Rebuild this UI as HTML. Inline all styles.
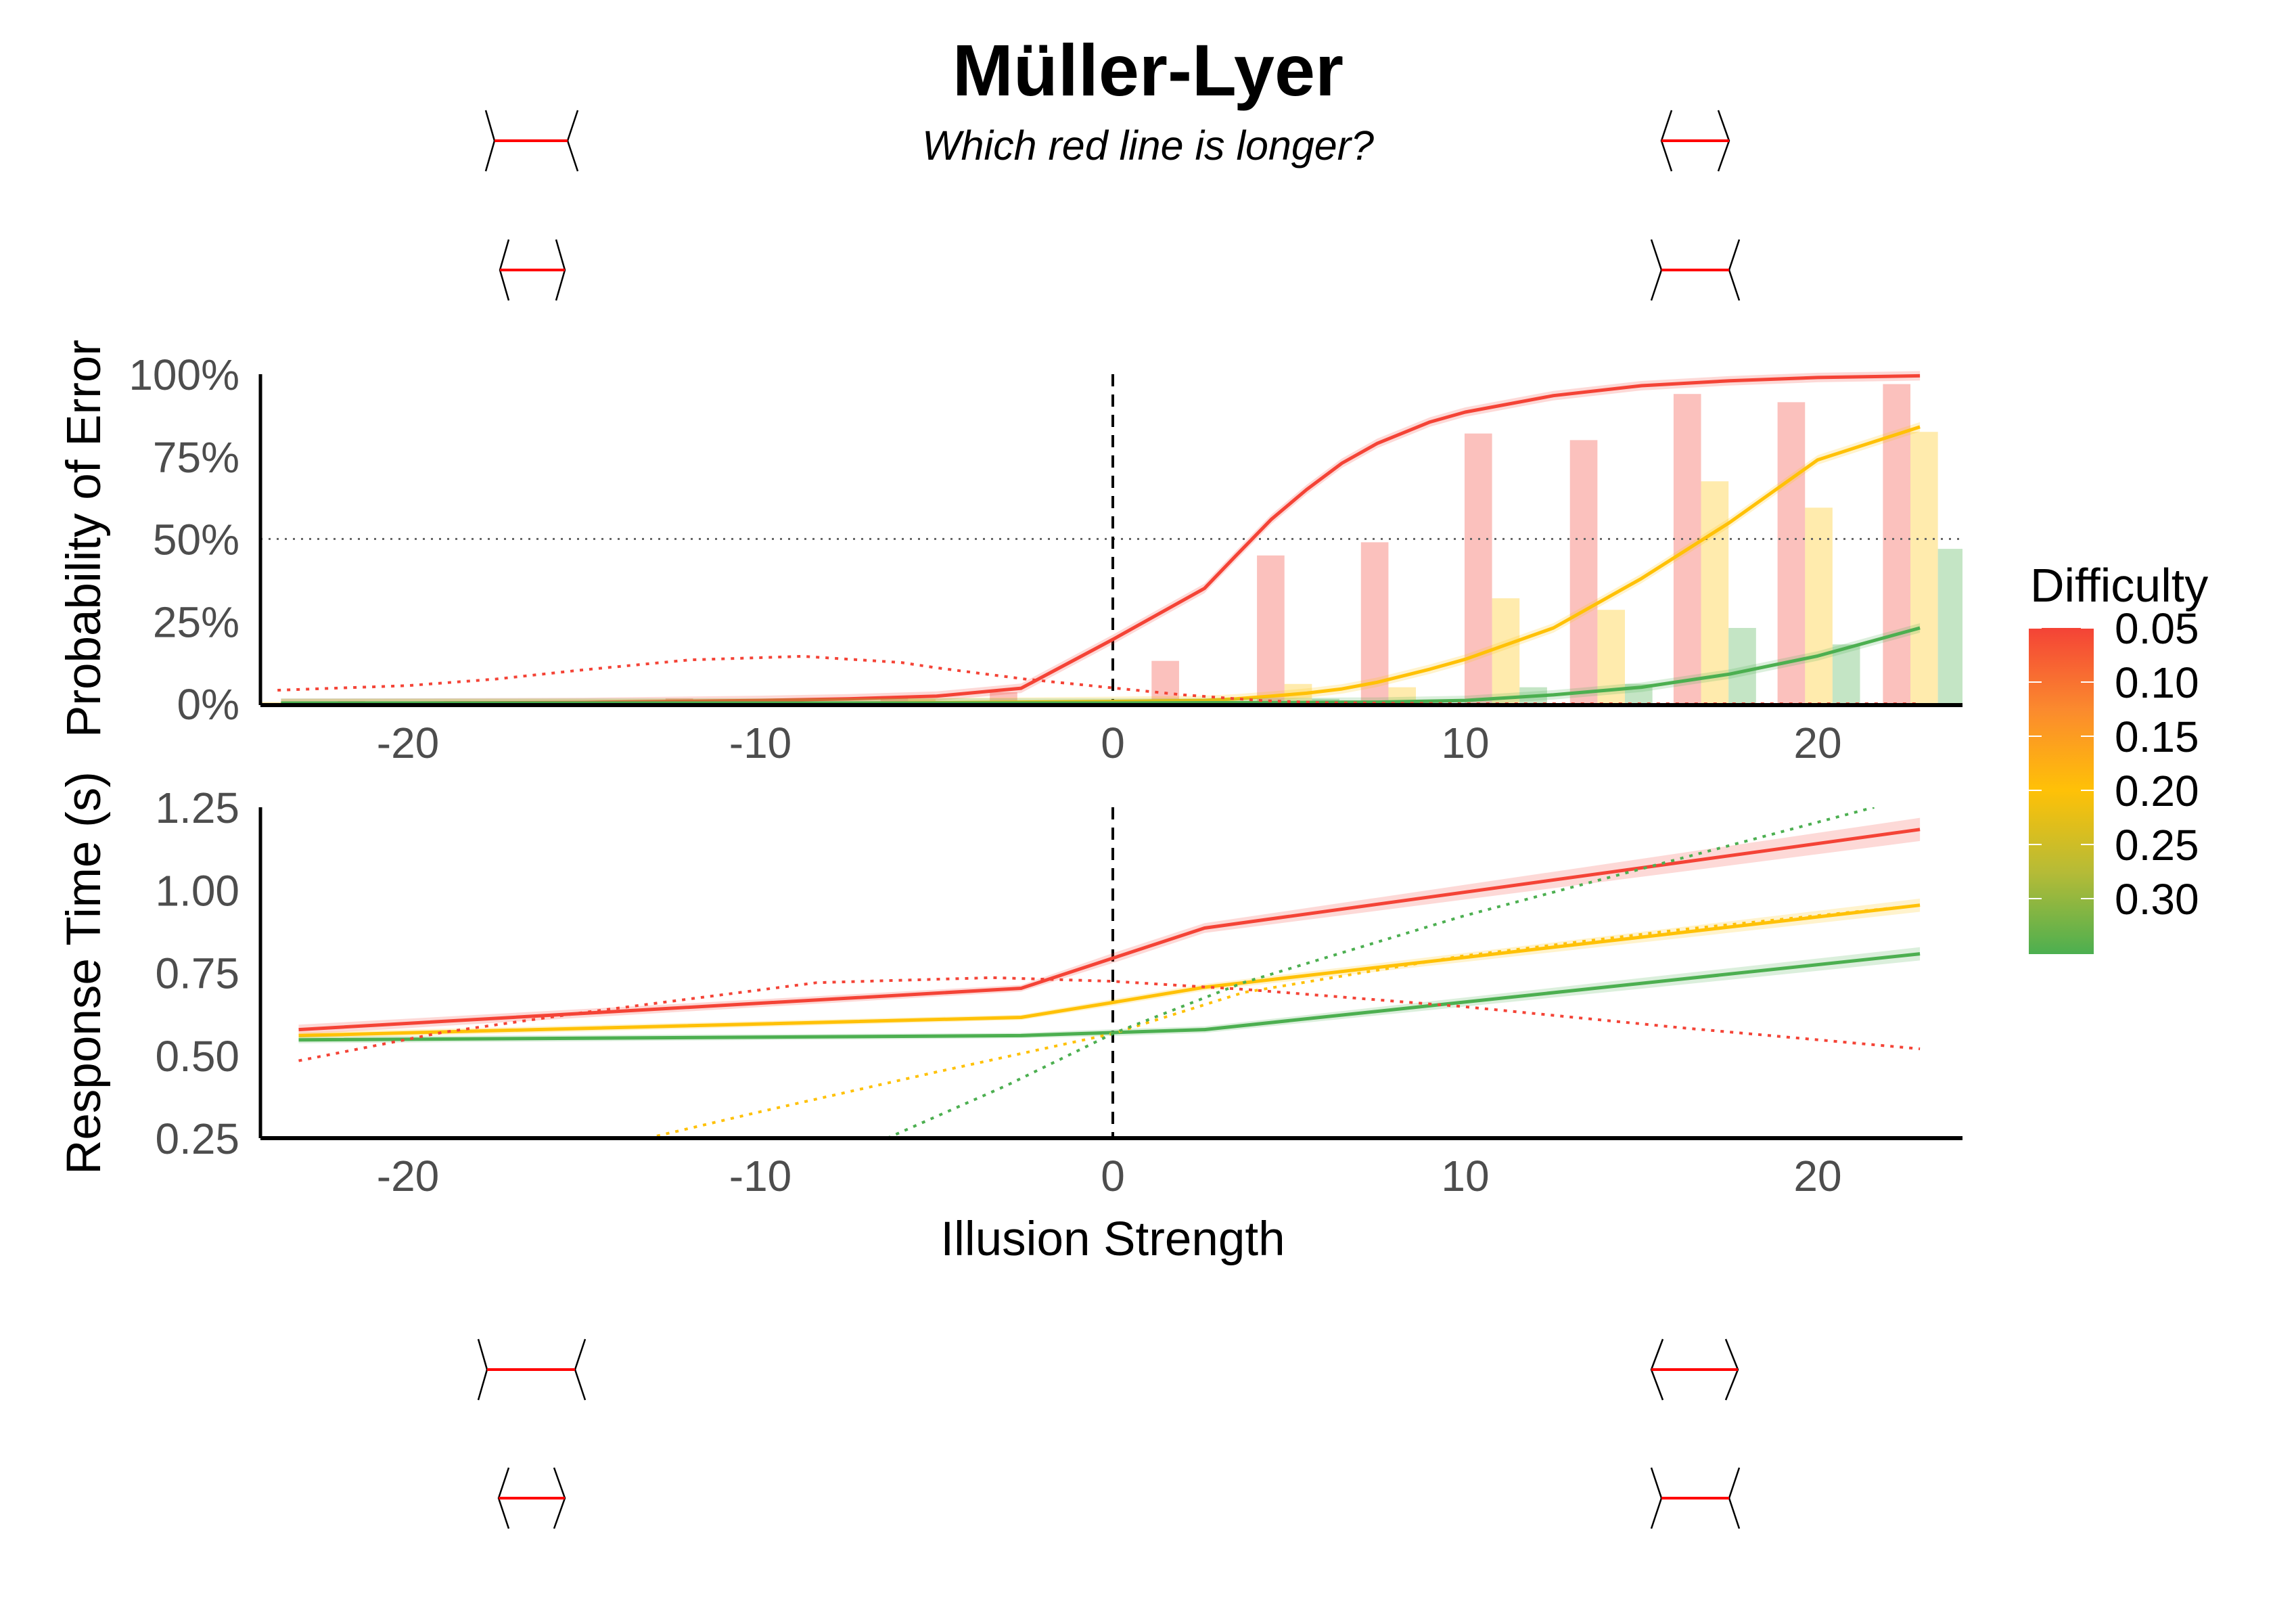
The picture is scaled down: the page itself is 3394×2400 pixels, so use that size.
<!DOCTYPE html>
<html><head><meta charset="utf-8"><style>
html,body{margin:0;padding:0;background:#fff;}
svg{display:block;font-family:"Liberation Sans",Arial,sans-serif;}
</style></head><body>
<svg id="chart" width="3394" height="2400" viewBox="0 0 3394 2400" xmlns="http://www.w3.org/2000/svg">
<defs>
<clipPath id="clipTop"><rect x="385" y="540" width="2516" height="502"/></clipPath>
<clipPath id="clipBot"><rect x="385" y="1193" width="2516" height="489"/></clipPath>
<linearGradient id="legGrad" x1="0" y1="0" x2="0" y2="1">
<stop offset="0" stop-color="#F44336"/><stop offset="0.25" stop-color="#FB8A2E"/><stop offset="0.497" stop-color="#FFC107"/><stop offset="0.75" stop-color="#B5BB37"/><stop offset="1" stop-color="#4CAF50"/>
</linearGradient>
</defs>
<text x="1697" y="141" text-anchor="middle" font-size="108" font-weight="bold">Müller-Lyer</text>
<text x="1697" y="236" text-anchor="middle" font-size="61" font-style="italic">Which red line is longer?</text>
<g id="icons" stroke="#000" stroke-width="2.5" fill="none"></g>
<g id="topPanel"></g>
<g id="botPanel"></g>
<text transform="translate(148,796) rotate(-90)" text-anchor="middle" font-size="71">Probability of Error</text>
<text transform="translate(148,1438) rotate(-90)" text-anchor="middle" font-size="71">Response Time (s)</text>
<text x="1645" y="1855" text-anchor="middle" font-size="71">Illusion Strength</text>
<g id="legend">
<text x="3001" y="889" font-size="70">Difficulty</text>
<rect x="2999" y="928" width="96" height="482" fill="url(#legGrad)"/>
</g>
</svg>
<script>
// ---- data ----
const xTicks = [-20, -10, 0, 10, 20];
const errTicks = [0, 25, 50, 75, 100];
const errTickLabels = ["0%", "25%", "50%", "75%", "100%"];
const rtTicks = [0.25, 0.50, 0.75, 1.00, 1.25];
const rtTickLabels = ["0.25", "0.50", "0.75", "1.00", "1.25"];
const legendTicks = [0.05, 0.10, 0.15, 0.20, 0.25, 0.30];
const legendTickLabels = ["0.05", "0.10", "0.15", "0.20", "0.25", "0.30"];

const binX = [-24.6, -21.6, -18.6, -15.5, -12.3, -9.3, -6.2, -3.1, 1.49, 4.48, 7.43, 10.37, 13.36, 16.3, 19.25, 22.24];
const barRed = [0.8, 0.8, 0.8, 0, 1.6, 0, 2.3, 3.5, 13, 45, 49, 82, 80, 94, 91.5, 97];
const barYellow = [0.5, 0.7, 0, 0, 0, 0, 1.4, 0.5, 1, 6, 5, 32, 28.5, 67.5, 59.5, 82.5];
const barGreen = [0.5, 0.5, 0, 0, 0, 0, 0, 0, 0.3, 1.5, 0.5, 5, 6, 23, 18, 47];

const errX = [-23.6, -20, -15, -10, -7.5, -5, -2.6, 0, 2.6, 3.5, 4.5, 5.5, 6.5, 7.5, 9, 10, 12.5, 15, 17.5, 20, 22.9];
const errRed = [0.1, 0.2, 0.4, 1, 1.5, 2.3, 4.7, 19.5, 35, 45, 56, 65, 73, 79, 85.5, 88.5, 93.5, 96.5, 98, 99, 99.5];
const errYellow = [0, 0, 0.05, 0.1, 0.2, 0.3, 0.5, 0.7, 1, 1.5, 2.3, 3.2, 4.5, 6.5, 10.5, 13.5, 23, 38, 55, 74, 84];
const errGreen = [0.2, 0.2, 0.2, 0.2, 0.2, 0.2, 0.2, 0.2, 0.3, 0.3, 0.35, 0.4, 0.45, 0.5, 0.8, 1, 2.7, 5, 9, 14.5, 23];
const errDotX = [-23.7, -20, -17.5, -15, -12, -8.8, -6, -5, -2.5, 0, 2, 4.3, 6, 10, 22.9];
const errDotRed = [4.1, 5.5, 7.5, 10.3, 13.3, 14.4, 12.5, 10.9, 7.5, 4.8, 2.7, 0.9, 0.3, 0, 0];

const rtX = [-23.1, -2.6, 0, 2.6, 22.9];
const rtRed = [0.578, 0.703, 0.794, 0.885, 1.183];
const rtYellow = [0.56, 0.615, 0.66, 0.706, 0.954];
const rtGreen = [0.547, 0.56, 0.569, 0.578, 0.807];
const rtRedSE = [0.015, 0.01, 0.015, 0.015, 0.035];
const rtYellowSE = [0.01, 0.008, 0.01, 0.01, 0.02];
const rtGreenSE = [0.01, 0.008, 0.01, 0.01, 0.02];
const rtDotRedX = [-23.1, -19, -15, -8.4, -3.4, 0, 3.7, 9.9, 16.1, 22.9];
const rtDotRed = [0.484, 0.57, 0.63, 0.72, 0.735, 0.724, 0.70, 0.648, 0.584, 0.52];
const rtDotYellowX = [-13.2, -10, -5, 0, 3.7, 9.9, 16.1, 22.9];
const rtDotYellow = [0.25, 0.33, 0.45, 0.566, 0.69, 0.80, 0.88, 0.954];
const rtDotGreenX = [-6.4, -3, 0, 3.7, 9.9, 16.1, 21.6];
const rtDotGreen = [0.25, 0.41, 0.566, 0.72, 0.92, 1.095, 1.25];

// ---- scales ----
const NS = "http://www.w3.org/2000/svg";
const X0 = 1645, XU = 52.1;
const sx = v => X0 + v * XU;
const syTop = v => 1040 - v * (487 / 100);
const syBot = v => 1682 - (v - 0.25) * 489;
const RED = "#F44336", YEL = "#FFC107", GRN = "#4CAF50";

function mk(tag, parent) { const e = document.createElementNS(NS, tag); parent.appendChild(e); return e; }
function pathFrom(xs, ys, fy) { return xs.map((x, i) => (i ? "L" : "M") + sx(x).toFixed(1) + "," + fy(ys[i]).toFixed(1)).join(""); }

const topG = document.getElementById("topPanel");
const botG = document.getElementById("botPanel");

// ---- top panel ----
const gTopC = mk("g", topG); gTopC.setAttribute("clip-path", "url(#clipTop)");
const bw = 0.78;
[[barRed, RED, 0, "bar-red"], [barYellow, YEL, 1, "bar-yellow"], [barGreen, GRN, 2, "bar-green"]].forEach(([vals, col, k, nm]) => {
  vals.forEach((v, i) => {
    if (v <= 0) return;
    const r = mk("rect", gTopC);
    
    
    const cx = binX[i] + k * bw;
    r.setAttribute("x", sx(cx - bw / 2));
    r.setAttribute("width", bw * XU);
    r.setAttribute("y", syTop(v));
    r.setAttribute("height", syTop(0) - syTop(v));
    r.setAttribute("fill", col);
    r.setAttribute("fill-opacity", "0.33");
  });
});
const h50 = mk("line", gTopC);


h50.setAttribute("x1", 385); h50.setAttribute("x2", 2901); h50.setAttribute("y1", syTop(50)); h50.setAttribute("y2", syTop(50));
h50.setAttribute("stroke", "#666"); h50.setAttribute("stroke-width", "3"); h50.setAttribute("stroke-dasharray", "3 9");
const v0t = mk("line", gTopC);


v0t.setAttribute("x1", sx(0)); v0t.setAttribute("x2", sx(0)); v0t.setAttribute("y1", 553); v0t.setAttribute("y2", 1040);
v0t.setAttribute("stroke", "#000"); v0t.setAttribute("stroke-width", "4"); v0t.setAttribute("stroke-dasharray", "18 12");
[[errRed, RED, "error-curve-red"], [errYellow, YEL, "error-curve-yellow"], [errGreen, GRN, "error-curve-green"]].forEach(([ys, col, nm]) => {
  const band = mk("path", gTopC);
  
  
  band.setAttribute("d", pathFrom(errX, ys, v => syTop(v) - 7) + pathFrom(errX.slice().reverse(), ys.slice().reverse(), v => syTop(v) + 7).replace("M", "L") + "Z");
  band.setAttribute("fill", col); band.setAttribute("fill-opacity", "0.2");
  const p = mk("path", gTopC);
  
  
  p.setAttribute("d", pathFrom(errX, ys, syTop));
  p.setAttribute("fill", "none"); p.setAttribute("stroke", col); p.setAttribute("stroke-width", "5"); p.setAttribute("stroke-linejoin", "round");
});
const dTop = mk("path", gTopC);


dTop.setAttribute("d", pathFrom(errDotX, errDotRed, syTop));
dTop.setAttribute("fill", "none"); dTop.setAttribute("stroke", RED); dTop.setAttribute("stroke-width", "4"); dTop.setAttribute("stroke-dasharray", "5 9");

// ---- bottom panel ----
const gBotC = mk("g", botG); gBotC.setAttribute("clip-path", "url(#clipBot)");
const v0b = mk("line", gBotC);


v0b.setAttribute("x1", sx(0)); v0b.setAttribute("x2", sx(0)); v0b.setAttribute("y1", 1193); v0b.setAttribute("y2", 1682);
v0b.setAttribute("stroke", "#000"); v0b.setAttribute("stroke-width", "4"); v0b.setAttribute("stroke-dasharray", "18 12");
[[rtRed, rtRedSE, RED, "rt-line-red"], [rtYellow, rtYellowSE, YEL, "rt-line-yellow"], [rtGreen, rtGreenSE, GRN, "rt-line-green"]].forEach(([ys, se, col, nm]) => {
  const up = ys.map((v, i) => v + se[i]), lo = ys.map((v, i) => v - se[i]);
  const band = mk("path", gBotC);
  
  
  band.setAttribute("d", pathFrom(rtX, up, syBot) + pathFrom(rtX.slice().reverse(), lo.slice().reverse(), syBot).replace("M", "L") + "Z");
  band.setAttribute("fill", col); band.setAttribute("fill-opacity", "0.2");
  const p = mk("path", gBotC);
  
  
  p.setAttribute("d", pathFrom(rtX, ys, syBot));
  p.setAttribute("fill", "none"); p.setAttribute("stroke", col); p.setAttribute("stroke-width", "5"); p.setAttribute("stroke-linejoin", "round");
});
[[rtDotRedX, rtDotRed, RED, "rt-dotted-red"], [rtDotYellowX, rtDotYellow, YEL, "rt-dotted-yellow"], [rtDotGreenX, rtDotGreen, GRN, "rt-dotted-green"]].forEach(([xs, ys, col, nm]) => {
  const p = mk("path", gBotC);
  
  
  p.setAttribute("d", pathFrom(xs, ys, syBot));
  p.setAttribute("fill", "none"); p.setAttribute("stroke", col); p.setAttribute("stroke-width", "4"); p.setAttribute("stroke-dasharray", "5 9");
});

// ---- axes ----
function axes(parent, y0, y1, yTicks, yLabels, fy, labY, nm) {
  const ya = mk("line", parent);
  
  
  ya.setAttribute("x1", 385); ya.setAttribute("x2", 385); ya.setAttribute("y1", y0); ya.setAttribute("y2", y1);
  ya.setAttribute("stroke", "#000"); ya.setAttribute("stroke-width", "5");
  const xa = mk("line", parent);
  
  
  xa.setAttribute("x1", 385); xa.setAttribute("x2", 2901); xa.setAttribute("y1", y1); xa.setAttribute("y2", y1);
  xa.setAttribute("stroke", "#000"); xa.setAttribute("stroke-width", "6");
  yTicks.forEach((v, i) => {
    const t = mk("text", parent);
    
    
    t.setAttribute("x", 354); t.setAttribute("y", fy(v) + 23);
    t.setAttribute("text-anchor", "end"); t.setAttribute("font-size", "64"); t.setAttribute("fill", "#4d4d4d");
    t.textContent = yLabels[i];
  });
  xTicks.forEach(v => {
    const t = mk("text", parent);
    
    
    t.setAttribute("x", sx(v)); t.setAttribute("y", labY);
    t.setAttribute("text-anchor", "middle"); t.setAttribute("font-size", "64"); t.setAttribute("fill", "#4d4d4d");
    t.textContent = String(v);
  });
}
axes(topG, 553, 1042, errTicks, errTickLabels, syTop, 1120, "error");
axes(botG, 1193, 1682, rtTicks, rtTickLabels, syBot, 1760, "rt");

// ---- legend ----
const leg = document.getElementById("legend");
const sLeg = v => 928 + (v - 0.05) / 0.05 * 80;
legendTicks.forEach((v, i) => {
  [[2999, 3018], [3076, 3095]].forEach(([a, b]) => {
    const l = mk("line", leg);
    
    
    l.setAttribute("x1", a); l.setAttribute("x2", b); l.setAttribute("y1", sLeg(v)); l.setAttribute("y2", sLeg(v));
    l.setAttribute("stroke", "#fff"); l.setAttribute("stroke-width", "2");
  });
  const t = mk("text", leg);
  
  
  t.setAttribute("x", 3126); t.setAttribute("y", sLeg(v) + 23);
  t.setAttribute("font-size", "64"); t.setAttribute("fill", "#000");
  t.textContent = legendTickLabels[i];
});

// ---- illusion icons ----
const icons = document.getElementById("icons");
const iconDefs = [
  [718, 731, 839, 854, 208, 45],
  [752, 739, 835, 822, 399, 45],
  [2471, 2456, 2556, 2540, 208, 45],
  [2441, 2456, 2556, 2571, 399, 45],
  [707, 720, 850, 865, 2024, 45],
  [752, 737, 835, 819, 2214, 45],
  [2458, 2441, 2569, 2551, 2024, 45],
  [2441, 2456, 2556, 2571, 2214, 45]
];
iconDefs.forEach(d => {
  const [oL, iL, iR, oR, cy, h] = d;
  const g = mk("g", icons);
  
  
  const p1 = mk("polyline", g);
  p1.setAttribute("points", `${oL},${cy - h} ${iL},${cy} ${oL},${cy + h}`);
  const p2 = mk("polyline", g);
  p2.setAttribute("points", `${oR},${cy - h} ${iR},${cy} ${oR},${cy + h}`);
  const r = mk("line", g);
  r.setAttribute("x1", iL); r.setAttribute("x2", iR); r.setAttribute("y1", cy); r.setAttribute("y2", cy);
  r.setAttribute("stroke", "#FF0000"); r.setAttribute("stroke-width", "4");
});
</script>
</body></html>
